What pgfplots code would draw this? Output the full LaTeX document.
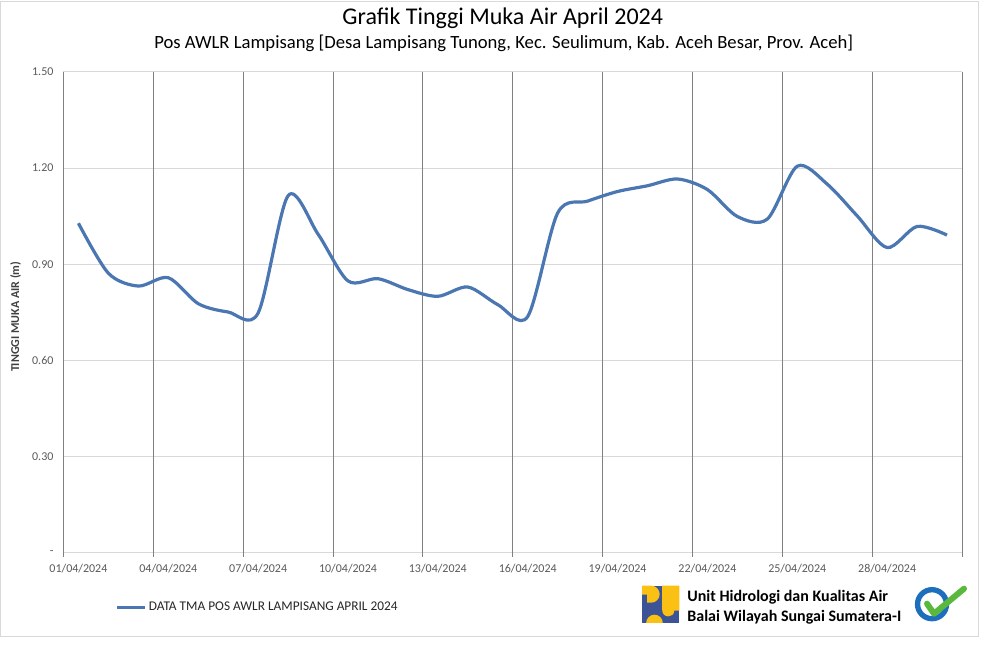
\documentclass[border=0pt]{standalone}
\usepackage{pgfplots}
\pgfplotsset{compat=1.18}
\usepackage{fontspec}
\setmainfont{Carlito}
\definecolor{lineblue}{RGB}{74,118,178}
\definecolor{tickgray}{RGB}{89,89,89}
\definecolor{gridlight}{RGB}{217,217,217}
\definecolor{griddark}{RGB}{128,128,128}
\definecolor{puyellow}{RGB}{250,192,20}
\definecolor{publue}{RGB}{60,84,150}
\definecolor{isoblue}{RGB}{30,110,190}
\definecolor{isogreen}{RGB}{90,185,60}
\begin{document}
\begin{tikzpicture}
\path (0,0) rectangle (738pt,495pt);
\begin{axis}[
 at={(47.25pt,80.25pt)}, anchor=south west,
 width=674.25pt, height=360.75pt, scale only axis,
 xmin=-0.5, xmax=29.5, ymin=0, ymax=1.5,
 axis x line=bottom, axis y line=left,
 x axis line style={draw=gridlight, line width=0.75pt, -},
 y axis line style={draw=griddark, line width=0.75pt, -},
 xtick={0,3,...,27},
 xticklabels={01/04/2024,04/04/2024,07/04/2024,10/04/2024,13/04/2024,16/04/2024,19/04/2024,22/04/2024,25/04/2024,28/04/2024},
 major tick length=0pt,
 extra x ticks={-0.5,2.5,5.5,8.5,11.5,14.5,17.5,20.5,23.5,26.5,29.5},
 extra x tick labels={},
 extra x tick style={grid=major, major tick length=3pt, tick align=outside, tick style={draw=griddark, line width=0.75pt}},
 x grid style={draw=griddark, line width=0.75pt},
 ytick={0,0.3,0.6,0.9,1.2,1.5},
 yticklabels={-,0.30,0.60,0.90,1.20,1.50},
 ymajorgrids,
 y grid style={draw=gridlight, line width=0.75pt},
 ticklabel style={font=\fontsize{9}{10}\selectfont, text=tickgray},
 xticklabel style={yshift=-5pt},
 yticklabel style={xshift=-4pt},
 legend style={at={(0.0578,-0.114)}, anchor=west, draw=none, fill=none, inner sep=0pt,
   font=\fontsize{10}{12}\selectfont, text=black!85, nodes={inner xsep=1.5pt}},
 legend image code/.code={\draw[#1] (0pt,0pt) -- (21pt,0pt);},
 clip=false,
]
\addplot[lineblue, line width=2.4pt, smooth, tension=0.5] table {
x y
0 1.028
1 0.872
2 0.832
3 0.858
4 0.777
5 0.751
6 0.748
7 1.114
8 0.994
9 0.848
10 0.855
11 0.821
12 0.800
13 0.829
14 0.774
15 0.737
16 1.060
17 1.097
18 1.127
19 1.145
20 1.166
21 1.133
22 1.049
23 1.041
24 1.206
25 1.150
26 1.051
27 0.952
28 1.018
29 0.991
};
\addlegendentry{DATA TMA POS AWLR LAMPISANG APRIL 2024}
\end{axis}
\begin{scope}[x=0.75pt,y=0.75pt]
\draw[gridlight, line width=0.75pt] (0,23) rectangle (978,658);
\node[font=\fontsize{18}{21}\selectfont, text=black] at (502.5,642) {Grafik Tinggi Muka Air April 2024};
\node[font=\fontsize{14}{16}\selectfont, text=black] at (503.5,617) {Pos AWLR Lampisang [Desa Lampisang Tunong, Kec. Seulimum, Kab. Aceh Besar, Prov. Aceh]};
\node[font=\bfseries\fontsize{9}{10}\selectfont, text=black!75, rotate=90] at (15,343) {TINGGI MUKA AIR (m)};
% PU logo
\fill[publue] (642,36.7) rectangle (679.3,74);
\fill[puyellow] (642,74) -- (651,74) arc[start angle=90, end angle=-90, x radius=8.5, y radius=8.5] -- (647,57) -- (647,65) -- (642,65) -- cycle;
\fill[puyellow] (662,74) -- (679.3,74) -- (679.3,49) -- (674,49) .. controls (674,45) and (671,43.3) .. (668,43.3) .. controls (664.5,43.3) and (662,46) .. (662,50) -- cycle;
\fill[puyellow] (646,36.7) -- (662.6,36.7) arc[start angle=0, end angle=180, radius=8.3] -- cycle;
\node[anchor=base west, font=\bfseries\fontsize{12}{14}\selectfont, inner sep=0pt] at (687,58.3) {Unit Hidrologi dan Kualitas Air};
\node[anchor=base west, font=\bfseries\fontsize{12}{14}\selectfont, inner sep=0pt] at (687,38.3) {Balai Wilayah Sungai Sumatera-I};
% ISO badge
\draw[isoblue, line width=4pt] (932,55.5) circle[radius=14.5];
\draw[isogreen, line width=4.5pt, line cap=round, line join=round] (927,56) -- (934,46) -- (964,71);
\end{scope}
\end{tikzpicture}
\end{document}
